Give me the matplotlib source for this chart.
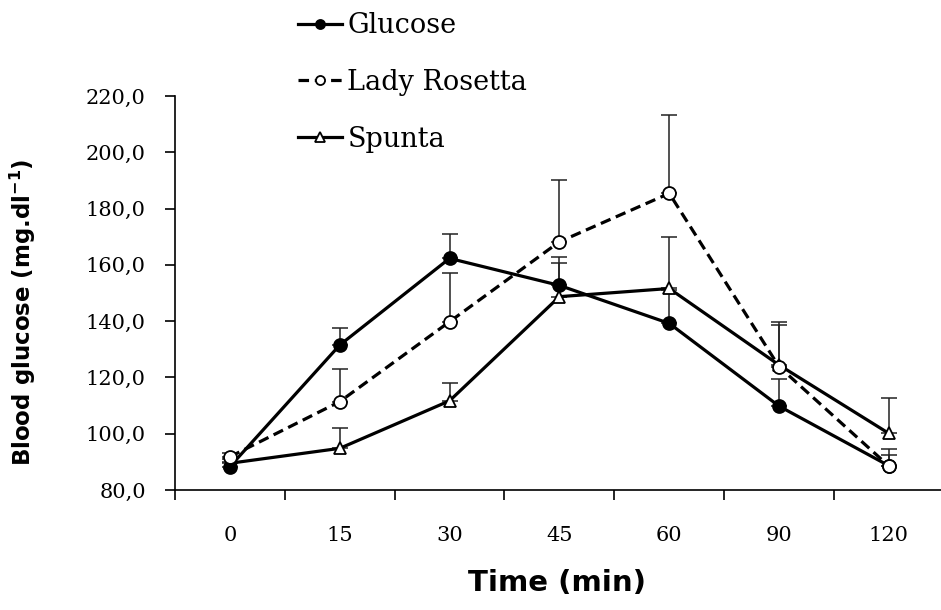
import matplotlib
matplotlib.use("Agg")
import matplotlib.pyplot as plt
from matplotlib.ticker import FixedLocator, NullFormatter
import numpy as np

categories = ["0", "15", "30", "45", "60", "90", "120"]
glucose = [88.3, 131.5, 162.3, 152.7, 139.2, 109.8, 88.6]
glucose_err = [1.5, 6.0, 8.8, 10.2, 12.0, 9.6, 4.0]
lady_rosetta = [91.8, 111.4, 139.8, 168.2, 185.4, 123.8, 88.5]
lady_rosetta_err = [1.5, 11.5, 17.2, 22.0, 27.8, 16.0, 6.0]
spunta = [89.5, 94.8, 111.7, 148.7, 151.6, 124.4, 100.1]
spunta_err = [1.5, 7.1, 6.4, 11.8, 18.4, 14.2, 12.7]
yticks = [80, 100, 120, 140, 160, 180, 200, 220]

fig = plt.figure(figsize=(9.41, 6.1), dpi=100)
ax = fig.add_axes([175/941, 1-490/610, 1-175/941+0.003, (490-96)/610])

x = np.arange(len(categories))
lw = 2.3
ms = 9.3

def draw(vals, errs, marker, mfc, label, dashes=None):
    ax.errorbar(x, vals, yerr=[np.zeros(len(errs)), errs], fmt="none",
                ecolor="#222222", elinewidth=1.1, capsize=5.5, capthick=1.1, zorder=2)
    kw = dict(color="black", lw=lw, marker=marker, markersize=ms,
              markerfacecolor=mfc, markeredgecolor="black", markeredgewidth=1.3,
              label=label, zorder=3)
    if dashes:
        kw["dashes"] = dashes
    ax.plot(x, vals, **kw)

draw(spunta, spunta_err, "^", "white", "Spunta")
draw(glucose, glucose_err, "o", "black", "Glucose")
draw(lady_rosetta, lady_rosetta_err, "o", "white", "Lady Rosetta", dashes=(3.3, 1.8))

ax.set_xlim(-0.5, 6.5)
ax.set_ylim(80, 220)
ax.spines["top"].set_visible(False)
ax.spines["right"].set_visible(False)
ax.spines["left"].set_linewidth(1.2)
ax.spines["bottom"].set_linewidth(1.2)

ax.set_yticks(yticks)
ax.set_yticklabels([f"{v:.1f}".replace(".", ",") for v in yticks],
                   family="DejaVu Serif", fontsize=15)
ax.tick_params(axis="y", direction="out", length=7, width=1.2, pad=14)

ax.set_xticks(x)
ax.set_xticklabels(categories, family="DejaVu Serif", fontsize=15)
ax.tick_params(axis="x", which="major", length=0, pad=26)
ax.xaxis.set_minor_locator(FixedLocator(np.arange(-0.5, 7, 1.0)))
ax.xaxis.set_minor_formatter(NullFormatter())
ax.tick_params(axis="x", which="minor", direction="out", length=7.5, width=1.2)

ax.set_xlabel("Time (min)", family="DejaVu Sans", fontweight="bold", fontsize=21)
ax.xaxis.set_label_coords((556-175)/766, -(569-490)/394, transform=ax.transAxes)
ax.set_ylabel("Blood glucose (mg.dl$^{\\mathbf{-1}}$)", family="DejaVu Sans",
              fontweight="bold", fontsize=16.5)
ax.yaxis.set_label_coords(-(175-39)/766, (490-312)/394)

handles, labels = ax.get_legend_handles_labels()
order = [labels.index(l) for l in ["Glucose", "Lady Rosetta", "Spunta"]]
leg = fig.legend([handles[i] for i in order], [labels[i] for i in order],
                 loc="upper left", bbox_to_anchor=(298/941, 1-12/610),
                 frameon=False, prop={"family": "DejaVu Serif", "size": 19.5},
                 handlelength=1.62, handletextpad=0.2, labelspacing=1.1,
                 borderpad=0, borderaxespad=0, markerscale=0.7, numpoints=1)

fig.savefig("out.png", dpi=100)
